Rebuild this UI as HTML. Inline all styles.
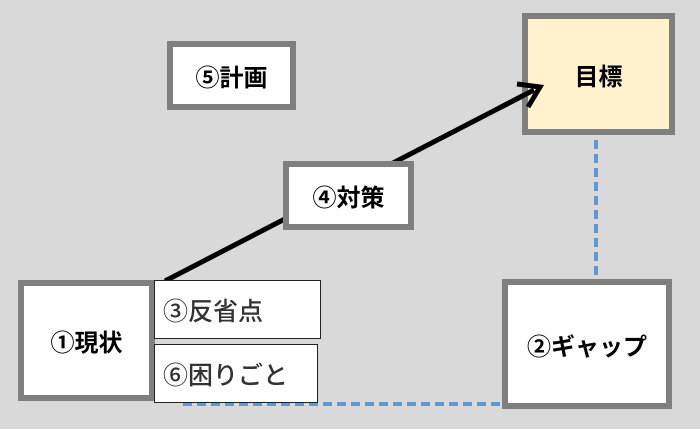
<!DOCTYPE html>
<html><head><meta charset="utf-8"><style>
body{margin:0;width:700px;height:429px;background:#d9d9d9;position:relative;overflow:hidden;font-family:"Liberation Sans","Noto Sans CJK JP",sans-serif;}
.b{position:absolute;box-sizing:border-box;background:#fff;border:6px solid #7f7f7f;display:flex;align-items:center;justify-content:center;font-weight:bold;font-size:24px;color:#000;}
.t{position:absolute;box-sizing:border-box;background:#fff;border:1px solid #222;display:flex;align-items:center;padding-left:8px;font-size:25px;color:#333;font-weight:500;}
</style></head><body>
<svg width="700" height="429" style="position:absolute;left:0;top:0">
<line x1="596" y1="140" x2="596" y2="280" stroke="#5b9bd5" stroke-width="4" stroke-dasharray="9,5"/>
<line x1="183" y1="404" x2="502" y2="404" stroke="#5b9bd5" stroke-width="4" stroke-dasharray="9,5"/>
<line x1="165" y1="281" x2="534" y2="90" stroke="#000" stroke-width="5"/>
</svg>
<div class="b" style="left:522px;top:13px;width:153px;height:122px;background:#fff2cc">目標</div>
<div class="b" style="left:167px;top:41px;width:129px;height:69px">⑤計画</div>
<div class="b" style="left:283px;top:161px;width:131px;height:69px">④対策</div>
<div class="b" style="left:18px;top:280px;width:137px;height:121px">①現状</div>
<div class="b" style="left:502px;top:279px;width:170px;height:130px">②ギャップ</div>
<div class="t" style="left:154px;top:280px;width:167px;height:59px">③反省点</div>
<div class="t" style="left:154px;top:344px;width:164px;height:59px">⑥困りごと</div>
<svg width="700" height="429" style="position:absolute;left:0;top:0">
<line x1="500" y1="107.6" x2="534" y2="90" stroke="#000" stroke-width="5"/>
<polyline points="517,84 540,87 528,107" fill="none" stroke="#000" stroke-width="5" stroke-linejoin="miter"/>
</svg>
</body></html>
